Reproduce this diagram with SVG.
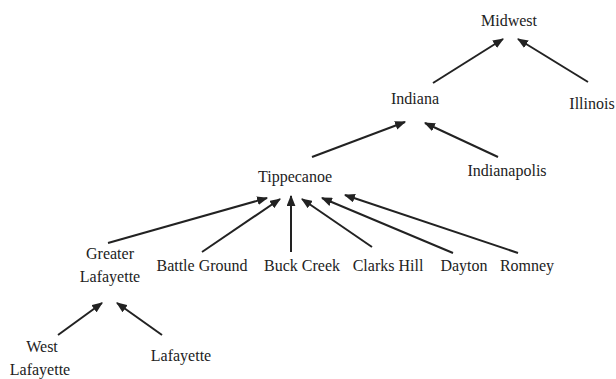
<svg xmlns="http://www.w3.org/2000/svg" width="616" height="379" viewBox="0 0 616 379">
  <style>
    text { font-family: "Liberation Serif", "Times New Roman", serif; font-size: 16px; fill: #222; text-anchor: middle; }
    .edge { stroke: #222; stroke-width: 2; fill: none; marker-end: url(#arrow); }
  </style>
  <defs>
    <marker id="arrow" viewBox="0 0 10 8" refX="9" refY="4" markerWidth="5.5" markerHeight="4.5" orient="auto" markerUnits="strokeWidth">
      <path d="M0,0 L10,4 L0,8 Z" fill="#222"/>
    </marker>
  </defs>
  <rect width="616" height="379" fill="#fff"/>

  <!-- child-to-parent links -->
  <g id="connectors">
    <line class="edge" x1="433" y1="83" x2="503" y2="39"/>
    <line class="edge" x1="588" y1="82" x2="518" y2="39"/>
    <line class="edge" x1="312" y1="157" x2="405" y2="122"/>
    <line class="edge" x1="498" y1="157" x2="425" y2="123"/>
    <line class="edge" x1="108" y1="243" x2="267" y2="198"/>
    <line class="edge" x1="202" y1="252" x2="280" y2="199"/>
    <line class="edge" x1="291" y1="252" x2="291" y2="196"/>
    <line class="edge" x1="372" y1="247" x2="302" y2="199"/>
    <line class="edge" x1="453" y1="253" x2="322" y2="198"/>
    <line class="edge" x1="518" y1="253" x2="345" y2="195"/>
    <line class="edge" x1="58" y1="335" x2="102" y2="303"/>
    <line class="edge" x1="162" y1="335" x2="117" y2="303"/>
  </g>

  <g id="midwest"><text x="509" y="26">Midwest</text></g>
  <g id="indiana"><text x="415" y="104">Indiana</text></g>
  <g id="illinois"><text x="592" y="109">Illinois</text></g>
  <g id="indianapolis"><text x="507" y="176">Indianapolis</text></g>
  <g id="tippecanoe"><text x="295" y="182">Tippecanoe</text></g>
  <g id="greater-lafayette"><text x="110" y="259">Greater</text><text x="110" y="282">Lafayette</text></g>
  <g id="battle-ground"><text x="202" y="271">Battle Ground</text></g>
  <g id="buck-creek"><text x="302" y="271">Buck Creek</text></g>
  <g id="clarks-hill"><text x="388" y="271">Clarks Hill</text></g>
  <g id="dayton"><text x="464" y="271">Dayton</text></g>
  <g id="romney"><text x="527" y="271">Romney</text></g>
  <g id="west-lafayette"><text x="42" y="352">West</text><text x="40" y="375">Lafayette</text></g>
  <g id="lafayette"><text x="181" y="361">Lafayette</text></g>
</svg>
